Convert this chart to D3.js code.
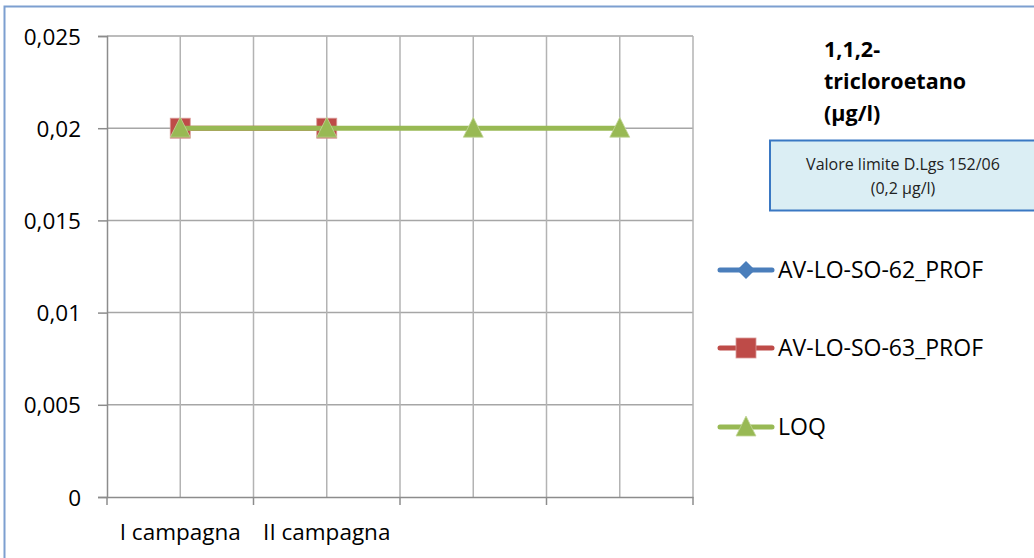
<!DOCTYPE html>
<html><head><meta charset="utf-8">
<script src="https://cdn.jsdelivr.net/npm/d3@7"></script>
<style>
html,body{margin:0;padding:0;background:#fff;}
svg{display:block;font-family:"Open Sans",sans-serif;}
</style></head>
<body><svg id="c" width="1034" height="558"></svg>
<script>
const categories = ["I campagna", "II campagna", "", " "];
const yTicks = [0, 0.005, 0.01, 0.015, 0.02, 0.025];
const yTickLabels = ["0", "0,005", "0,01", "0,015", "0,02", "0,025"];
const seriesNames = ["AV-LO-SO-62_PROF", "AV-LO-SO-63_PROF", "LOQ"];
const s62 = [null, null, null, null];
const s63 = [0.02, 0.02, null, null];
const loq = [0.02, 0.02, 0.02, 0.02];
const titleLines = ["1,1,2-", "tricloroetano", "(\u00b5g/l)"];
const boxLines = ["Valore limite D.Lgs 152/06", "(0,2 \u00b5g/l)"];

const FONT = "'Open Sans', sans-serif";
const series = [
  {name: seriesNames[0], values: s62, color: "#4a7ebb", marker: "diamond"},
  {name: seriesNames[1], values: s63, color: "#be4b48", marker: "square"},
  {name: seriesNames[2], values: loq, color: "#98b954", marker: "triangle"}
];

const svg = d3.select("#c");
svg.append("rect").attr("x", 4.5).attr("y", 6.5).attr("width", 1040).attr("height", 600)
  .attr("fill", "none").attr("stroke", "#7d9fd0").attr("stroke-width", 2);

const L = 107, R = 693, T = 36, B = 497;
const x = d3.scaleBand().domain(categories).range([L, R]).paddingInner(0).paddingOuter(0);
const y = d3.scaleLinear().domain([0, 0.025]).range([B, T]);

const g = svg.append("g");
g.selectAll(".hg").data(yTicks.slice(1)).enter().append("line")
  .attr("x1", L).attr("x2", R).attr("y1", d => y(d)).attr("y2", d => y(d))
  .attr("stroke", "#a6a6a6").attr("stroke-width", 1.5);
const vPos = [];
categories.forEach(c => { vPos.push(x(c) + x.bandwidth()/2); vPos.push(x(c) + x.bandwidth()); });
g.selectAll(".vg").data(vPos).enter().append("line")
  .attr("x1", d => d).attr("x2", d => d).attr("y1", T).attr("y2", B)
  .attr("stroke", "#b3b3b3").attr("stroke-width", 1.5);

const yAxis = d3.axisLeft(y).tickValues(yTicks).tickSize(9)
  .tickFormat((d, i) => yTickLabels[i]);
const ya = svg.append("g").attr("transform", `translate(${L},0)`).call(yAxis);
ya.select(".domain").attr("stroke", "#8c8c8c").attr("stroke-width", 1.5);
ya.selectAll(".tick line").attr("stroke", "#8c8c8c").attr("stroke-width", 1.5);
ya.selectAll(".tick text").attr("font-size", 22.5).attr("fill", "#000").attr("x", -26)
  .attr("dy", "0.36em").attr("font-family", FONT);

const xAxis = d3.axisBottom(x).tickSize(0).tickFormat(d => d.trim());
const xa = svg.append("g").attr("transform", `translate(0,${B})`).call(xAxis);
xa.select(".domain").attr("stroke", "#8c8c8c").attr("stroke-width", 1.5);
xa.selectAll(".tick text").attr("font-size", 22.5).attr("fill", "#000").attr("y", 43).attr("dy", 0)
  .attr("font-family", FONT);
const bPos = [L].concat(categories.map(c => x(c) + x.bandwidth()));
xa.selectAll(".btick").data(bPos).enter().append("line")
  .attr("x1", d => d).attr("x2", d => d).attr("y1", 0).attr("y2", 8)
  .attr("stroke", "#8c8c8c").attr("stroke-width", 1.5);

function drawMarker(sel, type, color, cx, cy) {
  if (type === "square") {
    sel.append("rect").attr("x", cx - 10).attr("y", cy - 10).attr("width", 20).attr("height", 20)
      .attr("fill", color).attr("stroke", "#d99a98").attr("stroke-width", 0.8);
  } else if (type === "triangle") {
    sel.append("path").attr("d", `M${cx},${cy-11}L${cx+10},${cy+9}L${cx-10},${cy+9}Z`)
      .attr("fill", color).attr("stroke", "#c3d69b").attr("stroke-width", 0.8);
  } else {
    sel.append("path").attr("d", `M${cx},${cy-9}L${cx+9},${cy}L${cx},${cy+9}L${cx-9},${cy}Z`)
      .attr("fill", color);
  }
}

const cx = c => x(c) + x.bandwidth()/2;
series.forEach(s => {
  const line = d3.line().defined(d => d.v !== null).x(d => cx(d.c)).y(d => y(d.v));
  const pts = categories.map((c, i) => ({c, v: s.values[i]}));
  svg.append("path").datum(pts).attr("d", line).attr("fill", "none")
    .attr("stroke", s.color).attr("stroke-width", 5).attr("stroke-linejoin", "round");
  const mg = svg.append("g");
  pts.filter(p => p.v !== null).forEach(p => drawMarker(mg, s.marker, s.color, cx(p.c), y(p.v)));
});

const tt = svg.append("text").attr("x", 824).attr("font-size", 21.5).attr("font-weight", "bold")
  .attr("fill", "#000").attr("font-family", FONT);
titleLines.forEach((t, i) => tt.append("tspan").attr("x", 824).attr("y", 57 + i * 32).text(t));

svg.append("rect").attr("x", 770).attr("y", 140.5).attr("width", 280).attr("height", 70)
  .attr("fill", "#dbeef4").attr("stroke", "#3a78c3").attr("stroke-width", 2);
boxLines.forEach((t, i) => svg.append("text").attr("x", 903).attr("y", 170 + i * 24)
  .attr("text-anchor", "middle").attr("font-size", 16).attr("fill", "#222")
  .attr("font-family", FONT).text(t));

const legY = [270, 348, 427];
series.forEach((s, i) => {
  const lg = svg.append("g");
  lg.append("line").attr("x1", 720).attr("x2", 772).attr("y1", legY[i]).attr("y2", legY[i])
    .attr("stroke", s.color).attr("stroke-width", 5).attr("stroke-linecap", "round");
  drawMarker(lg, s.marker, s.color, 746, legY[i]);
  lg.append("text").attr("x", 778).attr("y", legY[i] + 8).attr("font-size", 23).attr("fill", "#000")
    .attr("font-family", FONT).text(s.name);
});
</script></body></html>
